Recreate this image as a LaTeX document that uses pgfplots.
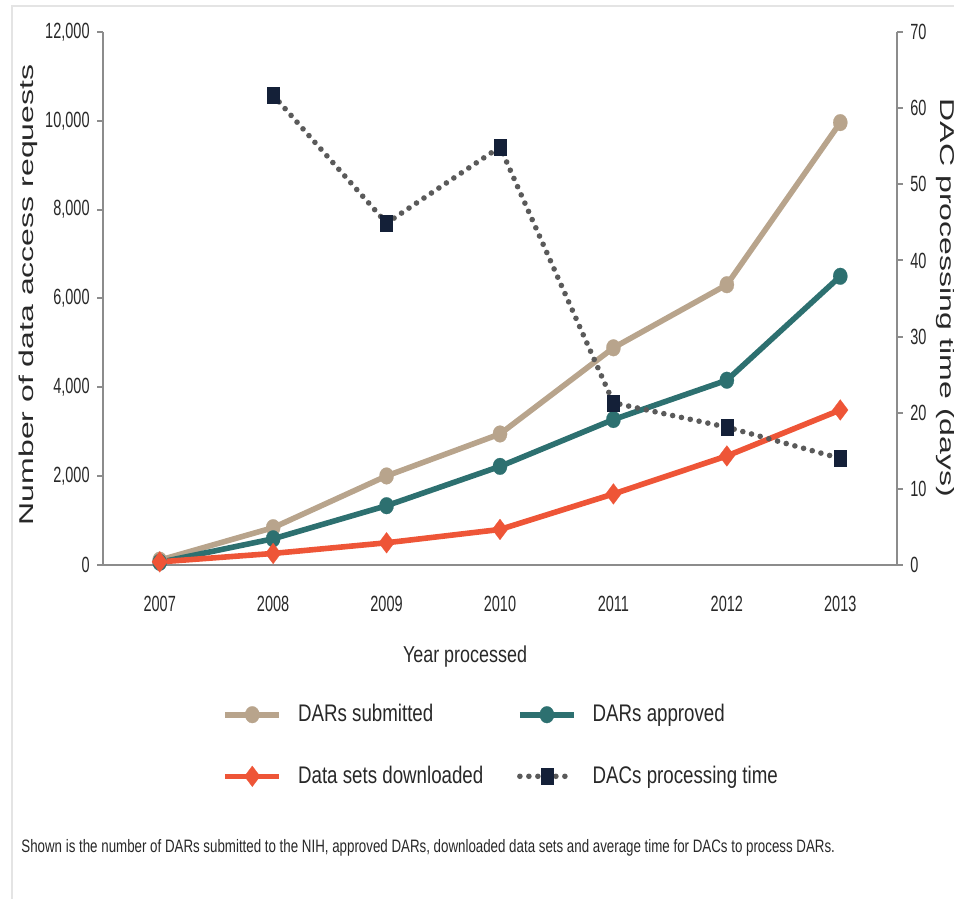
\documentclass[border=0pt]{standalone}
\usepackage{fontspec}
\setmainfont{Liberation Sans}
\newfontfamily\tickfont[FakeStretch=0.66]{Liberation Sans}
\newfontfamily\labfont[FakeStretch=0.78]{Liberation Sans}
\newfontfamily\capfont[FakeStretch=0.74]{Liberation Sans}
\newfontfamily\rotfont[FakeStretch=1.6]{Liberation Sans}
\usepackage{pgfplots}
\pgfplotsset{compat=1.18}

\definecolor{tan}{RGB}{184,164,140}
\definecolor{teal}{RGB}{45,112,112}
\definecolor{orng}{RGB}{238,85,55}
\definecolor{navy}{RGB}{20,32,56}
\definecolor{dotgray}{RGB}{90,90,90}
\definecolor{axisgray}{RGB}{140,140,140}
\definecolor{framegray}{RGB}{228,228,228}
\definecolor{txt}{RGB}{40,40,40}

\pgfplotsset{
  submitted/.style={tan, line width=2.8pt, line join=round, mark=*, mark size=4.2pt,
    mark options={solid, draw=tan, line width=0.1pt, fill=tan, xscale=0.85}},
  approved/.style={teal, line width=2.8pt, line join=round, mark=*, mark size=4.2pt,
    mark options={solid, draw=teal, line width=0.1pt, fill=teal, xscale=0.85}},
  downloaded/.style={orng, line width=2.8pt, line join=round, mark=diamond*, mark size=5.2pt,
    mark options={solid, draw=orng, line width=0.1pt, fill=orng}},
  dactime/.style={dotgray, line width=2.8pt, line cap=round, dash pattern=on 0pt off 4.5pt,
    mark=square*, mark size=4pt, mark options={solid, draw=navy, line width=0.1pt, fill=navy, xscale=0.75}},
  common/.style={
    scale only axis, width=397pt, height=266.5pt,
    xmin=2006.5, xmax=2013.5,
    scaled y ticks=false,
    axis line style={axisgray, line width=1pt},
    tick align=outside, major tick length=3pt,
    /pgf/number format/assume math mode=true,
    ticklabel style={font=\tickfont\fontsize{11}{13}\selectfont, text=txt},
  },
}

\begin{document}
\begin{tikzpicture}
\path[use as bounding box] (-51.5pt,-167pt) rectangle (425.5pt,282.5pt);
\draw[framegray, line width=0.7pt] (-45.5pt,-167pt) -- (-45.5pt,279.5pt) -- (425.5pt,279.5pt);

\begin{axis}[
  common,
  ymin=0, ymax=12000,
  axis x line*=bottom, axis y line*=left,
  xtick={2007,2008,2009,2010,2011,2012,2013},
  xticklabels={2007,2008,2009,2010,2011,2012,2013},
  ytick={0,2000,4000,6000,8000,10000,12000},
  yticklabels={0,{2,000},{4,000},{6,000},{8,000},{10,000},{12,000}},
  xtick style={draw=none},
  ytick style={axisgray, line width=1pt},
  x tick label style={anchor=center, yshift=-16.5pt},
  y tick label style={anchor=east, inner sep=0pt, xshift=-3.5pt},
]
\addplot[submitted] coordinates {(2007,110) (2008,840) (2009,2005) (2010,2950) (2011,4890) (2012,6310) (2013,9960)};
\addplot[approved] coordinates {(2007,60) (2008,590) (2009,1335) (2010,2220) (2011,3275) (2012,4160) (2013,6500)};
\addplot[downloaded] coordinates {(2007,70) (2008,260) (2009,500) (2010,800) (2011,1600) (2012,2455) (2013,3490)};
\end{axis}

\begin{axis}[
  common,
  ymin=0, ymax=70,
  axis y line*=right, axis x line=none,
  ytick={0,10,20,30,40,50,60,70},
  yticklabels={0,10,20,30,40,50,60,70},
  ytick style={axisgray, line width=1pt},
  y tick label style={anchor=west, inner sep=0pt, xshift=3.5pt},
  legend image code/.code={\draw[mark repeat=2, mark phase=2, #1] plot coordinates {(0pt,0pt) (13.5pt,0pt) (27pt,0pt)};},
  legend columns=2,
  legend cell align=left,
  legend style={at={(0.150,-0.261)}, anchor=north west, draw=none, fill=none,
    inner sep=0pt, row sep=20.5pt, nodes={inner sep=0pt},
    font=\labfont\fontsize{12}{14}\selectfont, text=txt,
    /tikz/every odd column/.append style={column sep=8pt},
    /tikz/every even column/.append style={column sep=0pt}},
]
\addlegendimage{submitted}
\addlegendentry{\makebox[109.5pt][l]{DARs submitted}}
\addlegendimage{approved}
\addlegendentry{DARs approved}
\addlegendimage{downloaded}
\addlegendentry{\makebox[109.5pt][l]{Data sets downloaded}}
\addplot[dactime] coordinates {(2008,61.7) (2009,44.9) (2010,54.9) (2011,21.3) (2012,18.1) (2013,14.0)};
\addlegendentry{DACs processing time}
\end{axis}

\node[rotate=90, font=\rotfont\fontsize{10}{12}\selectfont, text=txt] at (-37.5pt,135pt) {Number of data access requests};
\node[rotate=-90, font=\rotfont\fontsize{10}{12}\selectfont, text=txt] at (421.5pt,133.5pt) {DAC processing time (days)};
\node[font=\labfont\fontsize{11.5}{13}\selectfont, text=txt] at (181pt,-46pt) {Year processed};
\node[anchor=west, inner sep=0pt, font=\capfont\fontsize{9}{11}\selectfont, text=txt] at (-41pt,-141.5pt)
  {Shown is the number of DARs submitted to the NIH, approved DARs, downloaded data sets and average time for DACs to process DARs.};
\end{tikzpicture}
\end{document}
